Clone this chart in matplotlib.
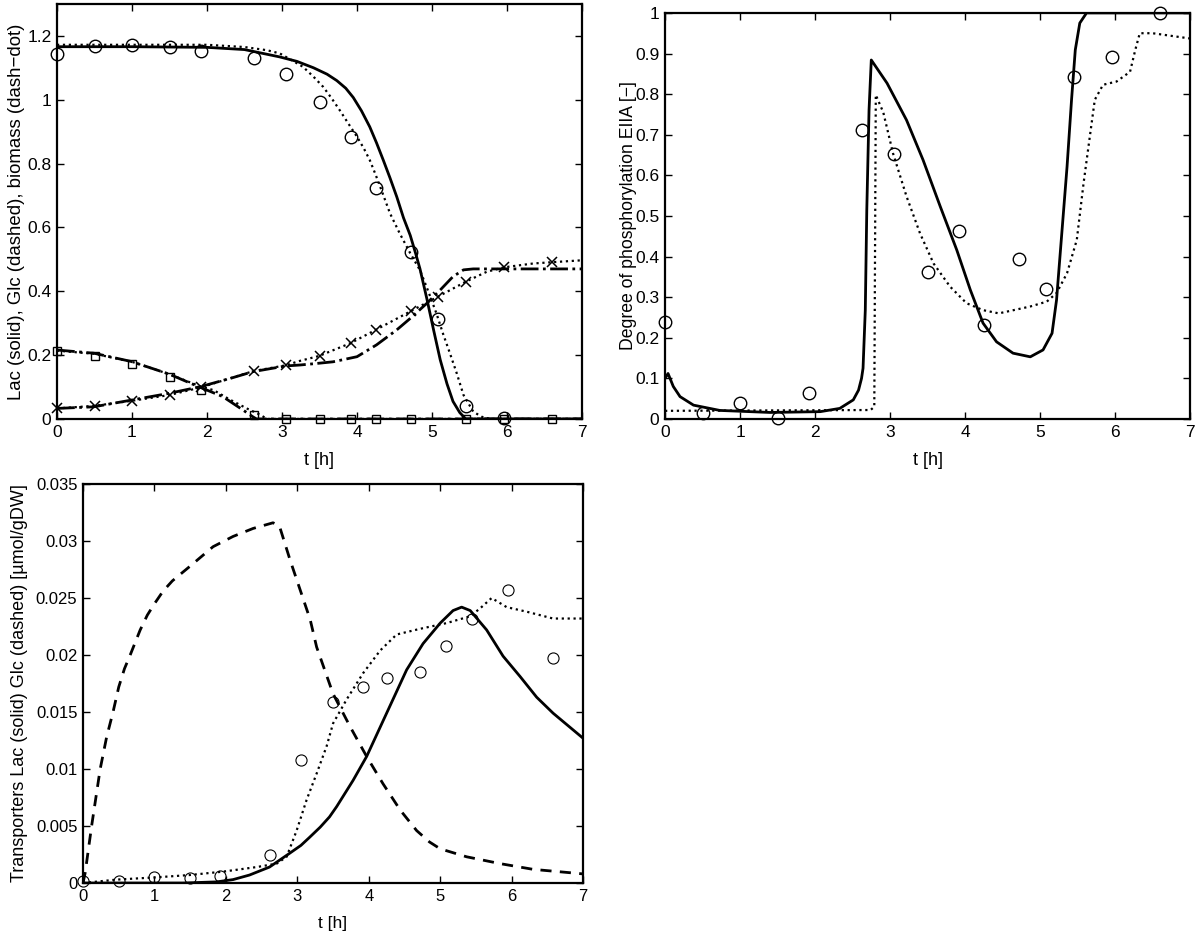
import matplotlib
matplotlib.use('Agg')
import matplotlib.pyplot as plt
from matplotlib.ticker import FuncFormatter

plt.rcParams['font.family'] = ['Liberation Sans', 'DejaVu Sans']
plt.rcParams['font.size'] = 12.5

# ---- top left: Lac / Glc / biomass ----
t_meas = [0, 0.5, 1.0, 1.5, 1.92, 2.62, 3.05, 3.5, 3.92, 4.25, 4.72, 5.08, 5.45, 5.96, 6.6]
lac_meas = [1.142, 1.168, 1.171, 1.164, 1.152, 1.130, 1.080, 0.993, 0.884, 0.722, 0.524, 0.313, 0.042, 0.002]
t_glc_meas = [0, 0.5, 1.0, 1.5, 1.92, 2.62, 3.05, 3.5, 3.92, 4.25, 4.72, 5.45, 5.96, 6.6]
glc_meas = [0.214, 0.197, 0.171, 0.132, 0.091, 0.012, 0, 0, 0, 0, 0, 0, 0, 0]
bio_meas = [0.033, 0.041, 0.057, 0.075, 0.099, 0.150, 0.168, 0.197, 0.237, 0.279, 0.338, 0.383, 0.430, 0.475, 0.491]

t_lac_a = [0, 1, 2, 2.5, 2.97, 3.2, 3.42, 3.6, 3.73, 3.85, 3.95, 4.06, 4.17, 4.26, 4.35, 4.44,
           4.53, 4.62, 4.71, 4.78, 4.84, 4.93, 5.02, 5.11, 5.2, 5.28, 5.37, 5.45, 6, 7]
lac_a = [1.166, 1.166, 1.164, 1.157, 1.134, 1.120, 1.100, 1.080, 1.060, 1.036, 1.007, 0.965, 0.915,
         0.865, 0.811, 0.755, 0.696, 0.630, 0.575, 0.520, 0.470, 0.378, 0.280, 0.185, 0.110, 0.055,
         0.020, 0, 0, 0]
t_lac_b = [0, 1, 2, 2.5, 2.8, 2.97, 3.12, 3.28, 3.42, 3.55, 3.66, 3.77, 3.88, 4.0, 4.09, 4.17, 4.24,
           4.31, 4.44, 4.57, 4.71, 4.84, 4.95, 5.06, 5.15, 5.24, 5.33, 5.42, 5.55, 5.66, 5.78, 7]
lac_b = [1.172, 1.172, 1.172, 1.165, 1.155, 1.145, 1.125, 1.103, 1.072, 1.040, 1.005, 0.967, 0.927,
         0.884, 0.848, 0.811, 0.770, 0.727, 0.644, 0.581, 0.519, 0.466, 0.400, 0.330, 0.265, 0.205,
         0.143, 0.075, 0.023, 0.007, 0, 0]

t_glc_a = [0, 0.49, 0.99, 1.49, 1.91, 2.21, 2.48, 2.61, 2.66, 7]
glc_a = [0.216, 0.206, 0.180, 0.141, 0.099, 0.070, 0.028, 0.007, 0, 0]
t_glc_b = [0, 0.5, 1.0, 1.5, 1.9, 2.09, 2.31, 2.53, 2.71, 2.8, 7]
glc_b = [0.214, 0.204, 0.179, 0.140, 0.103, 0.090, 0.060, 0.033, 0.013, 0, 0]

t_bio_a = [0, 0.49, 0.99, 1.49, 1.91, 2.31, 2.61, 3.05, 3.24, 3.47, 3.68, 4.0, 4.26, 4.53, 4.71,
           4.93, 5.11, 5.28, 5.42, 5.55, 7]
bio_a = [0.033, 0.038, 0.059, 0.080, 0.101, 0.127, 0.148, 0.166, 0.169, 0.174, 0.179, 0.195, 0.232,
         0.279, 0.315, 0.362, 0.404, 0.446, 0.467, 0.470, 0.470]
t_bio_b = [0, 0.5, 1.0, 1.5, 1.92, 2.62, 3.05, 3.24, 3.49, 3.91, 4.25, 4.72, 5.08, 5.45, 5.73,
           5.96, 6.35, 6.6, 7]
bio_b = [0.033, 0.041, 0.057, 0.075, 0.099, 0.150, 0.168, 0.182, 0.197, 0.237, 0.279, 0.338, 0.383,
         0.430, 0.461, 0.475, 0.487, 0.491, 0.497]

# ---- top right: EIIA phosphorylation ----
eiia_meas = [0.240, 0.014, 0.039, 0.003, 0.063, 0.712, 0.653, 0.363, 0.463, 0.232, 0.393, 0.320,
             0.841, 0.892, 0.999]
t_eiia_a = [0, 0.04, 0.11, 0.2, 0.38, 0.73, 1.4, 2.07, 2.33, 2.51, 2.58, 2.62, 2.64, 2.67, 2.69,
            2.72, 2.75, 2.96, 3.22, 3.44, 3.67, 3.89, 4.07, 4.24, 4.42, 4.64, 4.87, 5.04, 5.16,
            5.22, 5.29, 5.36, 5.42, 5.47, 5.53, 5.62, 7]
eiia_a = [0.100, 0.112, 0.080, 0.055, 0.034, 0.021, 0.016, 0.018, 0.026, 0.047, 0.071, 0.100, 0.125,
          0.268, 0.515, 0.761, 0.884, 0.827, 0.736, 0.638, 0.523, 0.416, 0.318, 0.236, 0.190, 0.162,
          0.153, 0.170, 0.211, 0.293, 0.457, 0.621, 0.786, 0.909, 0.975, 1.0, 1.0]
t_eiia_b = [0, 2.74, 2.79, 2.81, 2.91, 3.04, 3.22, 3.4, 3.58, 3.8, 4.02, 4.24, 4.45, 4.87, 5.09,
            5.22, 5.36, 5.49, 5.58, 5.67, 5.73, 5.84, 6.02, 6.2, 6.27, 6.33, 6.5, 7]
eiia_b = [0.020, 0.022, 0.030, 0.798, 0.755, 0.654, 0.548, 0.457, 0.383, 0.326, 0.285, 0.268, 0.260,
          0.277, 0.289, 0.310, 0.359, 0.441, 0.580, 0.704, 0.786, 0.823, 0.831, 0.855, 0.909, 0.950,
          0.950, 0.937]

# ---- bottom left: transporters ----
t_tr_meas = [0, 0.5, 1.0, 1.5, 1.92, 2.62, 3.05, 3.5, 3.92, 4.25, 4.72, 5.08, 5.45, 5.95, 6.58]
tr_meas = [0.0002, 0.0002, 0.0005, 0.0004, 0.0006, 0.0025, 0.0108, 0.0159, 0.0172, 0.0180, 0.0185,
           0.0208, 0.0232, 0.0257, 0.0197]
t_glc_tr = [0, 0.03, 0.12, 0.24, 0.33, 0.42, 0.5, 0.58, 0.66, 0.8, 0.9, 1.0, 1.12, 1.25, 1.5, 1.82,
            2.1, 2.38, 2.66, 2.75, 2.9, 3.04, 3.18, 3.27, 3.5, 3.74, 3.97, 4.2, 4.44, 4.67, 4.85,
            5.0, 5.37, 5.84, 6.3, 7]
glc_tr = [0, 0.0009, 0.005, 0.010, 0.0128, 0.015, 0.0172, 0.0188, 0.020, 0.0222, 0.0235, 0.0245,
          0.0256, 0.0265, 0.0278, 0.0295, 0.0304, 0.0311, 0.0316, 0.0313, 0.0283, 0.0257, 0.0231,
          0.0207, 0.0166, 0.0137, 0.0111, 0.0087, 0.0064, 0.0046, 0.0036, 0.0030, 0.0023, 0.0017,
          0.0012, 0.0008]
t_lac_tr_a = [0, 1.0, 1.4, 1.87, 2.1, 2.33, 2.61, 2.89, 3.05, 3.17, 3.32, 3.45, 3.55, 3.78, 3.97,
              4.25, 4.53, 4.76, 5.0, 5.18, 5.3, 5.42, 5.65, 5.88, 6.12, 6.35, 6.58, 7.0]
lac_tr_a = [0, 0, 0.0000, 0.0001, 0.0003, 0.0007, 0.0014, 0.0026, 0.0033, 0.0040, 0.0049, 0.0058,
            0.0067, 0.0090, 0.0111, 0.0149, 0.0187, 0.0210, 0.0228, 0.0239, 0.0242, 0.0239, 0.0222,
            0.0199, 0.0181, 0.0163, 0.0149, 0.0127]
t_lac_tr_b = [0, 0.47, 1.03, 1.49, 1.96, 2.43, 2.71, 2.85, 2.99, 3.13, 3.27, 3.41, 3.5, 3.69, 3.92,
              4.16, 4.39, 4.72, 5.09, 5.42, 5.56, 5.72, 5.93, 6.21, 6.58, 7.0]
lac_tr_b = [0, 0.0003, 0.0005, 0.0007, 0.0010, 0.0014, 0.0017, 0.0023, 0.0046, 0.0073, 0.0096,
            0.0120, 0.0140, 0.0161, 0.0184, 0.0204, 0.0218, 0.0223, 0.0228, 0.0234, 0.0241, 0.0250,
            0.0242, 0.0238, 0.0232, 0.0232]


def matlab_axes(ax, ylim, yticks, fs):
    ax.set_xlim(0, 7)
    ax.set_ylim(*ylim)
    ax.set_xticks(range(0, 8))
    ax.set_yticks(yticks)
    ax.yaxis.set_major_formatter(FuncFormatter(lambda v, p: '%g' % round(v, 4)))
    ax.tick_params(direction='in', top=True, right=True, length=5, width=1, pad=4, labelsize=fs)
    for s in ax.spines.values():
        s.set_linewidth(1.6)
    ax.set_xlabel('t [h]', labelpad=9, fontsize=fs + 0.5)


fig = plt.figure(figsize=(12, 9.36), dpi=100)
k = 'black'

ax1 = fig.add_axes([0.0475, 0.5524, 0.4375, 0.4434])
ax1.plot(t_lac_a, lac_a, '-', color=k, lw=2)
ax1.plot(t_lac_b, lac_b, ':', color=k, lw=1.6)
ax1.plot(t_glc_a, glc_a, '-.', color=k, lw=2)
ax1.plot(t_glc_b, glc_b, ':', color=k, lw=1.6)
ax1.plot(t_bio_a, bio_a, '-.', color=k, lw=2)
ax1.plot(t_bio_b, bio_b, ':', color=k, lw=1.6)
ax1.plot(t_meas[:len(lac_meas)], lac_meas, 'o', mfc='none', mec=k, ms=9, mew=1, clip_on=False)
ax1.plot(t_glc_meas, glc_meas, 's', mfc='none', mec=k, ms=6, mew=1, clip_on=False)
ax1.plot(t_meas, bio_meas, 'x', color=k, ms=6.5, mew=1.1, clip_on=False)
matlab_axes(ax1, (0, 1.3), [0, 0.2, 0.4, 0.6, 0.8, 1.0, 1.2], 12.5)
ax1.set_ylabel('Lac (solid), Glc (dashed), biomass (dash\u2212dot)', labelpad=1.5, fontsize=13.4)

ax2 = fig.add_axes([0.5542, 0.5524, 0.4375, 0.4338])
ax2.plot(t_eiia_a, eiia_a, '-', color=k, lw=2)
ax2.plot(t_eiia_b, eiia_b, ':', color=k, lw=1.6)
ax2.plot(t_meas, eiia_meas, 'o', mfc='none', mec=k, ms=9, mew=1, clip_on=False)
matlab_axes(ax2, (0, 1), [i / 10 for i in range(11)], 12.5)
ax2.set_ylabel('Degree of phosphorylation EIIA [\u2212]', labelpad=-1, fontsize=12.7)

ax3 = fig.add_axes([0.0692, 0.0566, 0.4167, 0.4263])
ax3.plot(t_glc_tr, glc_tr, '--', color=k, lw=2, dashes=(4, 3))
ax3.plot(t_lac_tr_a, lac_tr_a, '-', color=k, lw=2)
ax3.plot(t_lac_tr_b, lac_tr_b, ':', color=k, lw=1.6)
ax3.plot(t_tr_meas, tr_meas, 'o', mfc='none', mec=k, ms=8, mew=0.8, clip_on=False)
matlab_axes(ax3, (0, 0.035), [0, 0.005, 0.01, 0.015, 0.02, 0.025, 0.03, 0.035], 12)
ax3.set_ylabel('Transporters Lac (solid) Glc (dashed) [\u00b5mol/gDW]', labelpad=6, fontsize=13)

fig.savefig('out.png', dpi=100)
